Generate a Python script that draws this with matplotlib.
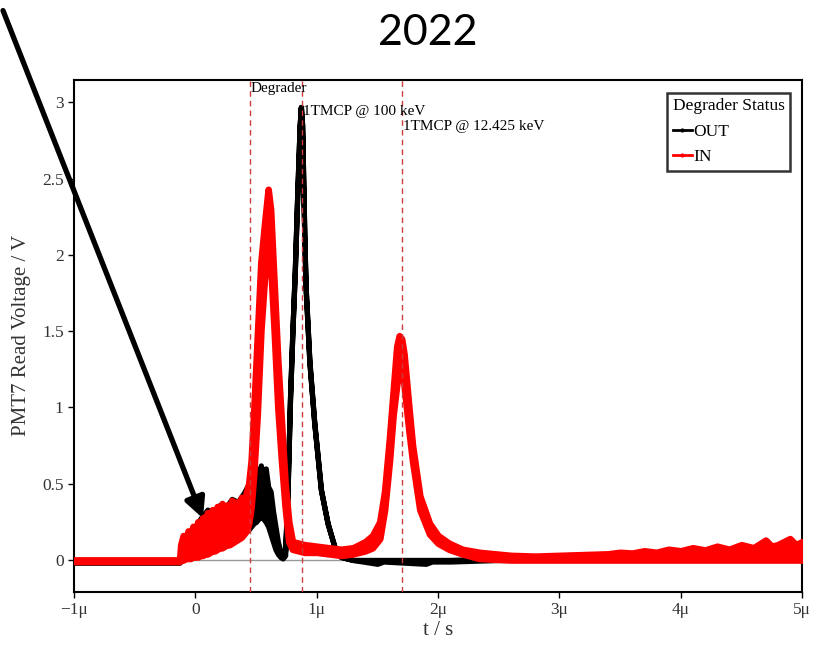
import matplotlib
matplotlib.use("Agg")
import matplotlib.pyplot as plt
from matplotlib.lines import Line2D
from matplotlib.patches import FancyArrowPatch

plt.rcParams['font.family'] = ['Liberation Serif', 'DejaVu Serif']

# PMT7 traces, time in microseconds, lower / upper envelope of the noisy signal in volts
t_out = [-1.0, -0.6, -0.13, -0.10, -0.05, 0.0, 0.05, 0.10, 0.15, 0.20, 0.25, 0.30,
         0.35, 0.40, 0.44, 0.46, 0.48, 0.50, 0.52, 0.54, 0.56, 0.58, 0.60, 0.62,
         0.64, 0.66, 0.68, 0.70, 0.72, 0.74, 0.76, 0.78, 0.80, 0.82, 0.84, 0.86,
         0.87, 0.88, 0.90, 0.91, 0.94, 0.98, 1.035, 1.09, 1.16, 1.2, 1.3, 1.5,
         1.55, 1.9, 1.95, 2.1, 2.5, 3.0, 4.0, 5.0]
out_lo = [-0.018, -0.018, -0.018, 0.02, 0.02, 0.03, 0.04, 0.06, 0.08, 0.10, 0.11, 0.13,
          0.15, 0.18, 0.20, 0.22, 0.24, 0.25, 0.27, 0.28, 0.27, 0.25, 0.22, 0.17,
          0.12, 0.07, 0.04, 0.02, 0.01, 0.03, 0.45, 1.05, 1.50, 1.90, 2.40, 2.85,
          2.97, 2.85, 2.05, 1.77, 1.30, 0.90, 0.46, 0.24, 0.05, 0.02, 0.0, -0.025,
          -0.01, -0.025, -0.01, -0.01, 0.0, 0.0, 0.0, 0.0]
out_hi = [0.0, 0.0, 0.0, 0.10, 0.15, 0.22, 0.28, 0.33, 0.30, 0.36, 0.34, 0.40,
          0.38, 0.44, 0.50, 0.58, 0.48, 0.60, 0.52, 0.62, 0.50, 0.60, 0.48, 0.45,
          0.32, 0.22, 0.12, 0.06, 0.04, 0.06, 0.45, 1.05, 1.50, 1.90, 2.40, 2.85,
          2.97, 2.85, 2.05, 1.77, 1.30, 0.90, 0.46, 0.24, 0.05, 0.02, 0.0, 0.0,
          0.0, 0.0, 0.0, 0.0, 0.01, 0.03, 0.03, 0.03]

t_in = [-1.0, -0.13, -0.12, -0.10, -0.08, -0.06, -0.04, -0.02, 0.00, 0.02, 0.04, 0.06,
        0.08, 0.10, 0.12, 0.14, 0.16, 0.18, 0.20, 0.22, 0.24, 0.26, 0.28, 0.30,
        0.32, 0.34, 0.36, 0.38, 0.40, 0.42, 0.44, 0.46, 0.48, 0.51, 0.54, 0.57,
        0.60, 0.62, 0.65, 0.68, 0.71, 0.74, 0.77, 0.80, 0.9, 1.0, 1.1, 1.2,
        1.3, 1.4, 1.46, 1.52, 1.56, 1.60, 1.63, 1.66, 1.68, 1.70, 1.72, 1.76,
        1.79, 1.85, 1.93, 2.0, 2.09, 2.2, 2.34, 2.6, 2.8, 3.0, 3.2, 3.4,
        3.5, 3.6, 3.7, 3.8, 3.9, 4.0, 4.1, 4.2, 4.3, 4.4, 4.5, 4.6,
        4.7, 4.75, 4.8, 4.9, 4.95, 5.0]
in_lo = [-0.01, -0.01, 0.0, 0.0, 0.01, 0.01, 0.01, 0.02, 0.02, 0.02, 0.03, 0.03,
         0.04, 0.04, 0.05, 0.06, 0.06, 0.07, 0.08, 0.08, 0.09, 0.10, 0.10, 0.11,
         0.12, 0.13, 0.14, 0.15, 0.17, 0.19, 0.24, 0.35, 0.55, 0.95, 1.50, 1.85,
         2.00, 1.95, 1.50, 1.00, 0.65, 0.35, 0.12, 0.07, 0.05, 0.05, 0.04, 0.03,
         0.04, 0.06, 0.08, 0.14, 0.33, 0.65, 0.95, 1.15, 1.25, 1.25, 1.15, 0.85,
         0.65, 0.33, 0.17, 0.11, 0.07, 0.04, 0.01, 0.0, 0.0, 0.0, 0.0, 0.0,
         0.0, 0.0, 0.0, 0.0, 0.0, 0.0, 0.0, 0.0, 0.0, 0.0, 0.0, 0.0,
         0.0, 0.0, 0.0, 0.0, 0.0, 0.0]
in_hi = [0.0, 0.0, 0.10, 0.16, 0.11, 0.19, 0.14, 0.22, 0.16, 0.25, 0.19, 0.28,
         0.21, 0.31, 0.24, 0.33, 0.26, 0.35, 0.27, 0.37, 0.29, 0.36, 0.30, 0.39,
         0.31, 0.38, 0.33, 0.41, 0.36, 0.44, 0.50, 0.65, 0.95, 1.45, 1.95, 2.20,
         2.43, 2.30, 1.80, 1.30, 0.90, 0.50, 0.25, 0.12, 0.10, 0.09, 0.08, 0.07,
         0.08, 0.12, 0.16, 0.25, 0.45, 0.80, 1.10, 1.40, 1.47, 1.45, 1.35, 1.00,
         0.75, 0.42, 0.24, 0.16, 0.11, 0.07, 0.05, 0.03, 0.025, 0.03, 0.035, 0.04,
         0.05, 0.045, 0.06, 0.05, 0.07, 0.06, 0.08, 0.065, 0.09, 0.07, 0.10, 0.08,
         0.13, 0.09, 0.10, 0.14, 0.10, 0.12]

# marker positions (microseconds)
markers = [0.45, 0.88, 1.70]
marker_text = ['Degrader', '1TMCP @ 100 keV', '1TMCP @ 12.425 keV']
marker_y = [3.09, 2.94, 2.84]

x_ticks = [-1, 0, 1, 2, 3, 4, 5]
x_ticklabels = ['\u22121\u03bc', '0', '1\u03bc', '2\u03bc', '3\u03bc', '4\u03bc', '5\u03bc']
y_ticks = [0, 0.5, 1, 1.5, 2, 2.5, 3]
y_ticklabels = ['0', '0.5', '1', '1.5', '2', '2.5', '3']

fig = plt.figure(figsize=(8.13, 6.46), dpi=100)
ax = fig.add_axes([74 / 813, 1 - 592 / 646, 728 / 813, 512.5 / 646])

ax.axhline(0, color='#999999', lw=1, zorder=1)

ax.fill_between(t_out, out_lo, out_hi, color='black', edgecolor='black', lw=3.8, zorder=2)
ax.fill_between(t_in, in_lo, in_hi, color='red', edgecolor='red', lw=4.8, zorder=3)

for x, txt, y in zip(markers, marker_text, marker_y):
    ax.axvline(x, color='#cc3d3d', lw=1, ls=(0, (4, 3)), zorder=4)
    ax.text(x + 0.008, y, txt, fontsize=11, va='center', ha='left', zorder=5)

ax.set_xlim(-1, 5)
ax.set_ylim(-0.21, 3.15)
ax.set_xticks(x_ticks)
ax.set_xticklabels(x_ticklabels)
ax.set_yticks(y_ticks)
ax.set_yticklabels(y_ticklabels)
ax.tick_params(labelsize=12.5, length=4, width=1, colors='black', labelcolor='#333333')
for s in ax.spines.values():
    s.set_linewidth(1.5)

ax.set_xlabel('t / s', fontsize=15, color='#333333', labelpad=2)
ax.set_ylabel('PMT7 Read Voltage / V', fontsize=15, color='#333333', labelpad=8)

handles = [Line2D([], [], color='black', lw=2, marker='.', markersize=4),
           Line2D([], [], color='red', lw=2, marker='.', markersize=4)]
leg = ax.legend(handles, ['OUT', 'IN'], title='Degrader Status', loc='upper left',
                bbox_to_anchor=(0.815, 0.974), fontsize=12.5, title_fontsize=12.5,
                frameon=True, fancybox=False, borderpad=0.3, handlelength=1.1,
                handletextpad=0.1, labelspacing=0.55, borderaxespad=0,
                alignment='left')
leg.get_frame().set_edgecolor('black')
leg.get_frame().set_linewidth(1.8)

fig.text(428 / 813, 1 - 33 / 646, '2022', fontsize=31, family='Lato',
         ha='center', va='center')

arrow = FancyArrowPatch((2 / 813, 1 - 8 / 646), (204 / 813, 1 - 521 / 646),
                        transform=fig.transFigure, arrowstyle='-|>',
                        mutation_scale=30, lw=3.8, color='black', zorder=10)
fig.add_artist(arrow)

fig.savefig('out.png', dpi=100)
